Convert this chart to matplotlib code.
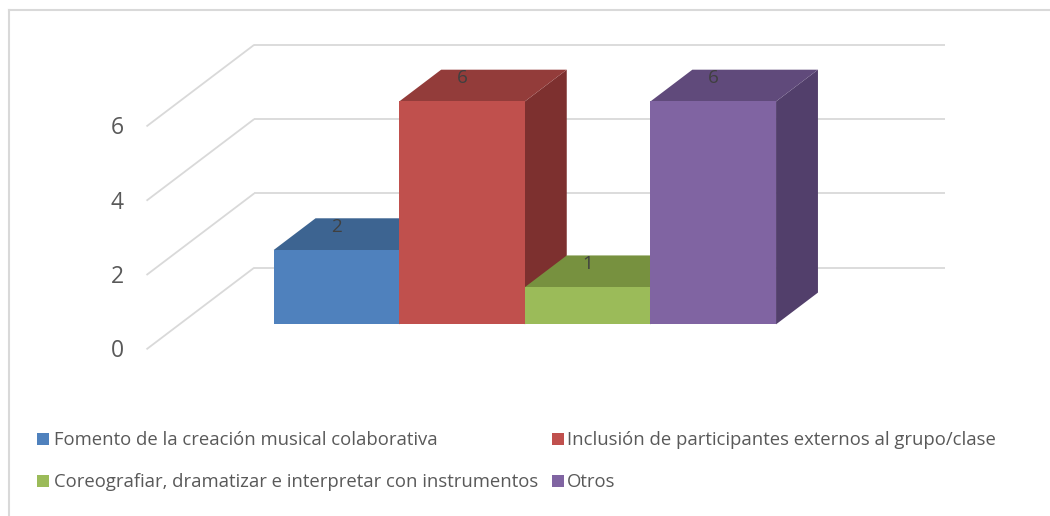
import matplotlib
matplotlib.use('Agg')
import matplotlib.pyplot as plt
from matplotlib.patches import Polygon, Rectangle
from matplotlib.lines import Line2D

plt.rcParams['font.family'] = ['Open Sans', 'DejaVu Sans']

# ---- data ----
categories = [
    'Fomento de la creación musical colaborativa',
    'Inclusión de participantes externos al grupo/clase',
    'Coreografiar, dramatizar e interpretar con instrumentos',
    'Otros',
]
values = [2, 6, 1, 6]
y_ticks = [0, 2, 4, 6]

# ---- styling ----
front_colors = ['#4F81BD', '#C0504D', '#9BBB59', '#8064A2']
top_colors = ['#3D6491', '#933C3A', '#77913F', '#604A7B']
side_colors = ['#345580', '#7D302F', '#62792F', '#523F6B']
grid_color = '#D9D9D9'

W, H = 1050, 516
fig = plt.figure(figsize=(W / 100, H / 100), dpi=100)
ax = fig.add_axes([0, 0, 1, 1])

# pixel scale of the plotting area (layout)
ppu_y = 37.15      # pixels per value unit
y0_px = 349.3      # pixel row of value 0 on the front edge of the floor
ppu_x = 125.6      # pixels per bar slot
x0_px = 240.7      # pixel column of first slot on the front edge
ax.set_xlim((0 - x0_px) / ppu_x, (W - x0_px) / ppu_x)
ax.set_ylim((y0_px - H) / ppu_y, y0_px / ppu_y)
ax.axis('off')

# oblique depth vector (full depth of floor), in data units
DX = 107.7 / ppu_x
DY = 81.6 / ppu_y
d_front, d_back = 0.306, 0.695
n = len(values)
gap = 0.75
floor_left, floor_right = -gap, n + gap

# walls gridlines and tick labels
for v in y_ticks:
    ax.plot([floor_left, floor_left + DX], [v, v + DY], color=grid_color, lw=1.3, zorder=1,
            solid_capstyle='butt')
    ax.plot([floor_left + DX, floor_right + DX], [v + DY, v + DY], color=grid_color, lw=1.3,
            zorder=1, solid_capstyle='butt')
    ax.text(floor_left - 22.7 / ppu_x, v - 2 / ppu_y, str(v), ha='right', va='center',
            fontsize=16.5, color='#595959', zorder=1)

# 3D bars
fx, fy = d_front * DX, d_front * DY
bx, by = d_back * DX, d_back * DY
for i, v in enumerate(values):
    x0, x1 = i, i + 1
    z = 2 + i
    side = [(x1 + fx, fy), (x1 + bx, by), (x1 + bx, v + by), (x1 + fx, v + fy)]
    top = [(x0 + fx, v + fy), (x1 + fx, v + fy), (x1 + bx, v + by), (x0 + bx, v + by)]
    front = [(x0 + fx, fy), (x1 + fx, fy), (x1 + fx, v + fy), (x0 + fx, v + fy)]
    ax.add_patch(Polygon(side, closed=True, facecolor=side_colors[i], edgecolor='none', zorder=z))
    ax.add_patch(Polygon(top, closed=True, facecolor=top_colors[i], edgecolor='none', zorder=z))
    ax.add_patch(Polygon(front, closed=True, facecolor=front_colors[i], edgecolor='none', zorder=z))

for i, v in enumerate(values):
    ax.text(i + 0.5 + fx, v + by - 8.5 / ppu_y, str(v), ha='center', va='center',
            fontsize=13.6, color='#404040', zorder=20)

# chart border (top and left visible)
fig.add_artist(Line2D([8.5 / W, 1], [1 - 9.5 / H, 1 - 9.5 / H], transform=fig.transFigure,
                      color=grid_color, lw=1.5))
fig.add_artist(Line2D([8.5 / W, 8.5 / W], [0, 1 - 9.5 / H], transform=fig.transFigure,
                      color=grid_color, lw=1.5))

# legend
sq_x = [36.7, 551.5]
txt_x = [54, 567]
row_y = [439, 481]
for i, name in enumerate(categories):
    r, c = divmod(i, 2)
    cy = row_y[r]
    fig.add_artist(Rectangle((sq_x[c] / W, 1 - (cy + 6) / H), 12 / W, 12 / H,
                             transform=fig.transFigure, facecolor=front_colors[i],
                             edgecolor='none'))
    fig.text(txt_x[c] / W, 1 - (cy + 1) / H, name, ha='left', va='center', fontsize=13.3,
             color='#595959')

fig.savefig('out.png', dpi=100)
